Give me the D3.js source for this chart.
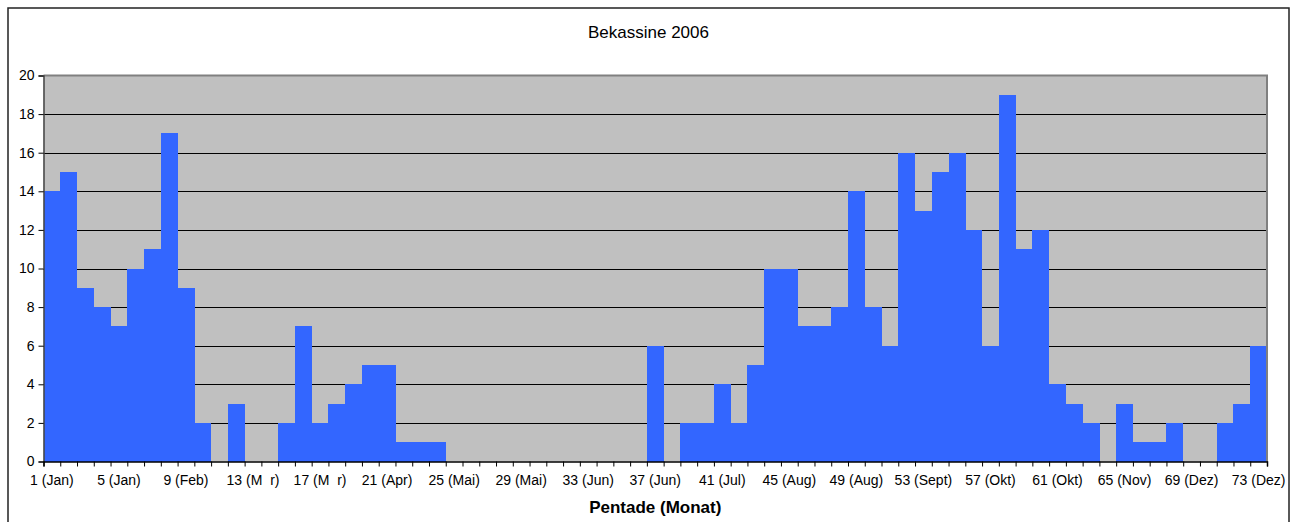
<!DOCTYPE html>
<html>
<head>
<meta charset="utf-8">
<script src="https://cdn.jsdelivr.net/npm/d3@7"></script>
<style>
  body { margin: 0; background: #fff; }
  svg text { font-family: "Liberation Sans", Arial, sans-serif; fill: #000; }
</style>
</head>
<body>
<svg id="myGraph" width="1295" height="522"></svg>
<script>
// Daten: Anzahl Bekassinen je Pentade (1..73)
var pentaden = d3.range(1, 74);
var werte = [14,15,9,8,7,10,11,17,9,2,
             0,3,0,0,2,7,2,3,4,5,
             5,1,1,1,0,0,0,0,0,0,
             0,0,0,0,0,0,6,0,2,2,
             4,2,5,10,10,7,7,8,14,8,
             6,16,13,15,16,12,6,19,11,12,
             4,3,2,0,3,1,1,2,0,0,
             2,3,6];
// Beschriftung jede 4. Pentade
var labelPentaden = [1,5,9,13,17,21,25,29,33,37,41,45,49,53,57,61,65,69,73];
var labelMonate = ["Jan","Jan","Feb","M  r","M  r","Apr","Mai","Mai","Jun","Jun","Jul","Aug","Aug","Sept","Okt","Okt","Nov","Dez","Dez"];
var yTicks = [0,2,4,6,8,10,12,14,16,18,20];

var svg = d3.select("#myGraph");
// Zeichenfläche
var plotL = 43.5, plotR = 1267, plotT = 75.5, plotB = 461.5;

var x = d3.scaleBand().domain(pentaden).range([plotL, plotR]).padding(0);
var y = d3.scaleLinear().domain([0, 20]).range([plotB, plotT]);

// Rahmen
svg.append("rect")
   .attr("x", 8).attr("y", 8).attr("width", 1281).attr("height", 530)
   .attr("fill", "#fff").attr("stroke", "#222").attr("stroke-width", 1.5);

// Hintergrund der Zeichenfläche
svg.append("rect")
   .attr("x", plotL).attr("y", plotT).attr("width", plotR - plotL).attr("height", plotB - plotT)
   .attr("fill", "#c0c0c0");

// Gitternetz
svg.append("g").selectAll("line")
   .data(yTicks.filter(function(d){ return d > 0 && d < 20; }))
   .enter().append("line")
   .attr("x1", plotL).attr("x2", plotR)
   .attr("y1", function(d){ return Math.round(y(d)) + 0.5; })
   .attr("y2", function(d){ return Math.round(y(d)) + 0.5; })
   .attr("stroke", "#000").attr("stroke-width", 1);

// Balken
svg.append("g").selectAll("rect")
   .data(werte)
   .enter().append("rect")
   .attr("x", function(d, i){ return x(pentaden[i]); })
   .attr("width", x.bandwidth() + 0.3)
   .attr("y", function(d){ return y(d); })
   .attr("height", function(d){ return plotB - y(d); })
   .attr("fill", "#3366ff")
   .attr("shape-rendering", "crispEdges");

// Rand oben / rechts
svg.append("path")
   .attr("d", "M" + plotL + "," + plotT + "H" + plotR + "V" + plotB)
   .attr("fill", "none").attr("stroke", "#808080").attr("stroke-width", 2);

// Y-Achse
var yAxis = svg.append("g")
   .attr("transform", "translate(" + plotL + ",0)")
   .call(d3.axisLeft(y).tickValues(yTicks).tickSize(5).tickPadding(4).tickFormat(d3.format("d")));
yAxis.select(".domain").attr("stroke", "#444").attr("stroke-width", 1.5);
yAxis.selectAll(".tick line").attr("stroke", "#000");
yAxis.selectAll("text").attr("font-size", 14).style("font-family", "Liberation Sans, Arial, sans-serif");

// X-Achse: Striche an jeder Pentadengrenze
var xb = d3.scaleLinear().domain([0, 73]).range([plotL, plotR]);
var xAxis = svg.append("g")
   .attr("transform", "translate(0," + plotB + ")")
   .call(d3.axisBottom(xb).tickValues(d3.range(0, 74)).tickSize(5).tickFormat(""));
xAxis.select(".domain").attr("stroke", "#000").attr("stroke-width", 1.5);
xAxis.selectAll(".tick line").attr("stroke", "#000");

// X-Beschriftung
var xLab = svg.append("g")
   .attr("transform", "translate(0," + plotB + ")")
   .call(d3.axisBottom(x).tickValues(labelPentaden).tickSize(0).tickPadding(14)
          .tickFormat(function(d, i){ return d + " (" + labelMonate[i] + ")"; }));
xLab.select(".domain").remove();
xLab.selectAll("text").attr("font-size", 14).style("white-space", "pre")
    .style("font-family", "Liberation Sans, Arial, sans-serif");

// Titel
svg.append("text")
   .attr("x", 648.5).attr("y", 38)
   .attr("text-anchor", "middle").attr("font-size", 17)
   .text("Bekassine 2006");

// Achsentitel
svg.append("text")
   .attr("x", (plotL + plotR) / 2).attr("y", 513)
   .attr("text-anchor", "middle").attr("font-size", 17).attr("font-weight", "bold")
   .text("Pentade (Monat)");
</script>
</body>
</html>
